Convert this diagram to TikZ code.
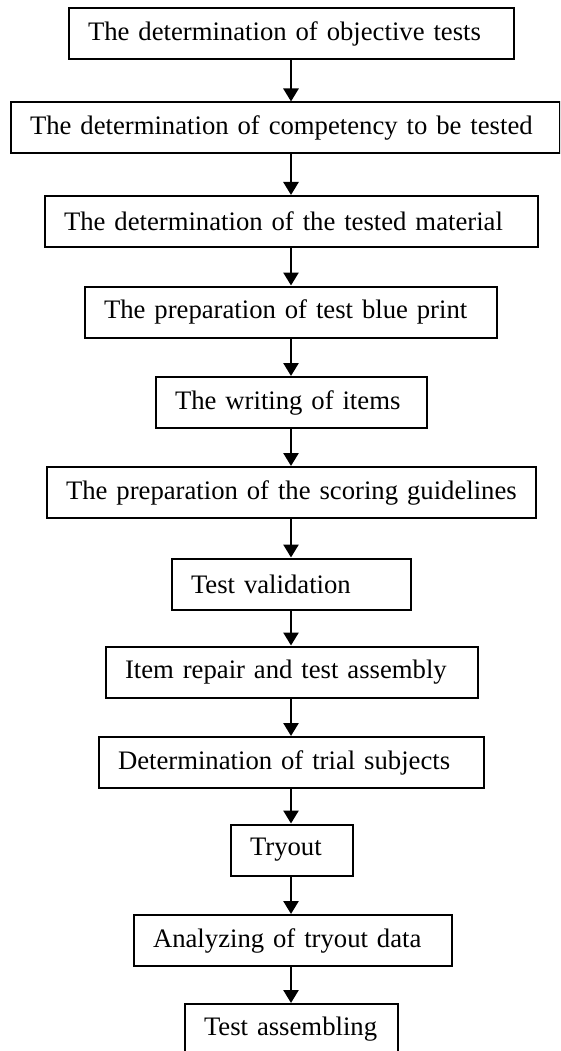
\documentclass[tikz,border=0pt]{standalone}
\usepackage{fontspec}
\setmainfont{Liberation Serif}
\usepackage{xcolor}
\usetikzlibrary{arrows.meta}
\tikzset{
  stepbox/.style={draw, line width=2pt, minimum height=51pt, inner xsep=19pt, inner ysep=0pt,
    align=left, anchor=west, font=\fontsize{26.7}{32}\selectfont},
  flow/.style={-{Triangle[length=13pt,width=15pt]}, line width=2.6pt}
}

\begin{document}
\begin{tikzpicture}[x=1pt, y=-1pt]

\useasboundingbox (0,0) rectangle (560,1051);
\clip (0,0) rectangle (560,1051);

\coordinate (A) at (291,0);

\node[stepbox, text width=407pt] (S1) at (68,34) {The determination of objective tests};
\node[stepbox, text width=511pt] (S2) at (10,128) {The determination of competency to be tested};
\node[stepbox, text width=455pt] (S3) at (44,221.5) {The determination of the tested material};
\node[stepbox, text width=374pt] (S4) at (84,312) {The preparation of test blue print};
\node[stepbox, text width=233pt] (S5) at (155,402.5) {The writing of items};
\node[stepbox, text width=451pt] (S6) at (46,492.5) {The preparation of the scoring guidelines};
\node[stepbox, text width=201pt] (S7) at (171,584) {Test validation};
\node[stepbox, text width=334pt] (S8) at (105,672) {Item repair and test assembly};
\node[stepbox, text width=347pt] (S9) at (98,762.5) {Determination of trial subjects};
\node[stepbox, text width=84pt] (S10) at (230,850) {Tryout};
\node[stepbox, text width=280pt] (S11) at (133,940.5) {Analyzing of tryout data};
\node[stepbox, text width=175pt] (S12) at (184,1029.5) {Test assembling};

\draw[flow] (A |- S1.south) -- (A |- S2.north);
\draw[flow] (A |- S2.south) -- (A |- S3.north);
\draw[flow] (A |- S3.south) -- (A |- S4.north);
\draw[flow] (A |- S4.south) -- (A |- S5.north);
\draw[flow] (A |- S5.south) -- (A |- S6.north);
\draw[flow] (A |- S6.south) -- (A |- S7.north);
\draw[flow] (A |- S7.south) -- (A |- S8.north);
\draw[flow] (A |- S8.south) -- (A |- S9.north);
\draw[flow] (A |- S9.south) -- (A |- S10.north);
\draw[flow] (A |- S10.south) -- (A |- S11.north);
\draw[flow] (A |- S11.south) -- (A |- S12.north);

\end{tikzpicture}
\end{document}
